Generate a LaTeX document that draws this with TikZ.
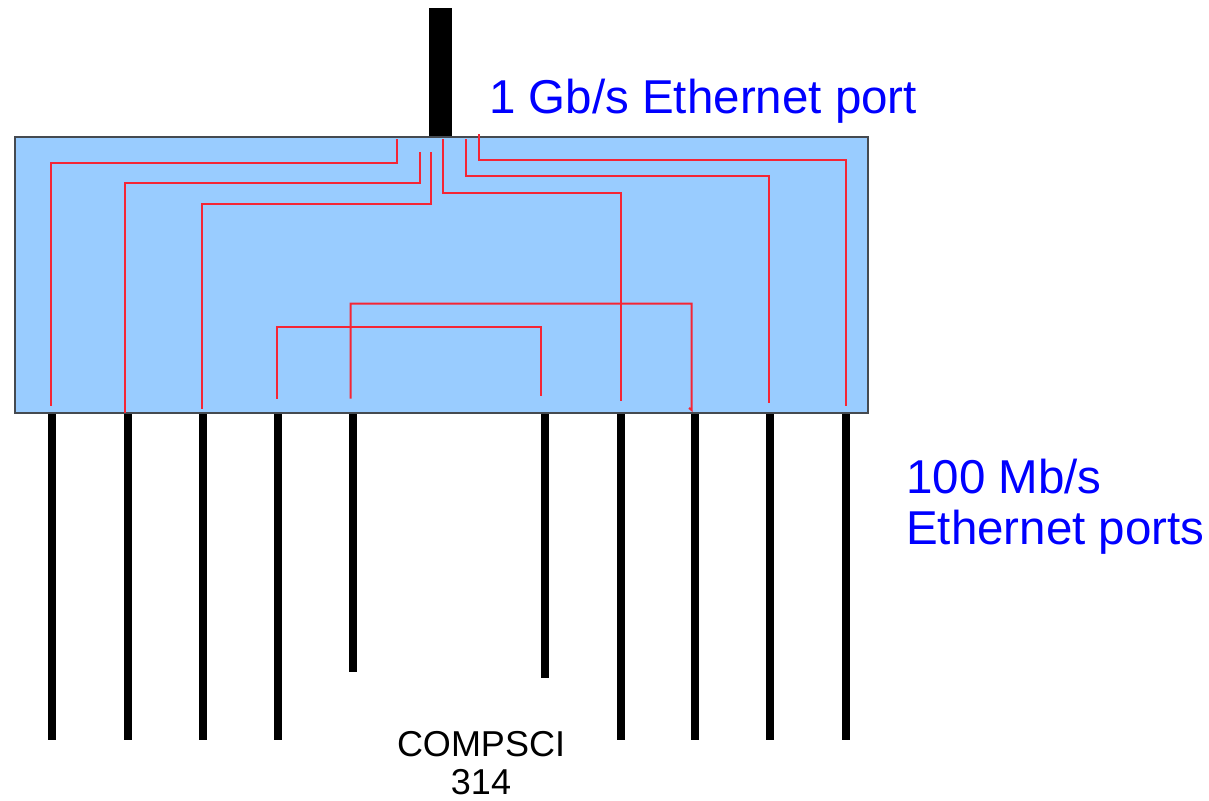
\documentclass[tikz,border=0pt]{standalone}
\usepackage{fontspec}
\setmainfont{Liberation Sans}
\definecolor{boxfill}{HTML}{99CCFF}
\definecolor{boxline}{HTML}{454A50}
\definecolor{trace}{HTML}{F52535}
\definecolor{labelblue}{HTML}{0000FF}
\begin{document}
\begin{tikzpicture}[x=1pt,y=-1pt,
  wire/.style={draw=trace,line width=2pt},
  portbar/.style={fill=black},
  biglabel/.style={inner sep=0pt,text=labelblue,font=\fontsize{47.5}{51}\selectfont},
  smalllabel/.style={inner sep=0pt,text=black,font=\fontsize{36}{37.8}\selectfont}]
\useasboundingbox (0,0) rectangle (1209,800);
% uplink bar
\fill[portbar] (429,8) rectangle (452,137);
% switch box
\draw[fill=boxfill,draw=boxline,line width=1.4pt] (15,137) rectangle (868,413);
% port bars
\foreach \x/\b in {52/740,128/740,203/740,278/740,353/672,545/678,621/740,695/740,770/740,846/740}{
  \fill[portbar] (\x-4,413.5) rectangle (\x+4,\b);
}
% traces from the uplink
\draw[wire] (397,139) -- (397,162.5) -- (51,162.5) -- (51,406);
\draw[wire] (420,152) -- (420,183) -- (125,183) -- (125,413);
\draw[wire] (430.5,152) -- (430.5,203.5) -- (201.5,203.5) -- (201.5,408.5);
\draw[wire] (442.5,139) -- (442.5,193) -- (620.5,193) -- (620.5,401);
\draw[wire] (466,139) -- (466,175.5) -- (768.5,175.5) -- (768.5,403);
\draw[wire] (478.5,134) -- (478.5,160) -- (845.5,160) -- (845.5,406);
% port-to-port traces
\draw[wire] (276.5,398.5) -- (276.5,326.5) -- (540.5,326.5) -- (540.5,396);
\draw[wire] (350.5,398.5) -- (350.5,303.5) -- (691.5,303.5) -- (691.5,410) -- (689,408);
% labels
\node[biglabel,anchor=base west] (uplinklabel) at (489,113.3) {1 Gb/s Ethernet port};
\node[biglabel,anchor=north west,align=left] (portslabel) at (906,458.5) {100 Mb/s\\Ethernet ports};
\node[smalllabel,anchor=north,align=center] (course) at (481,731.5) {COMPSCI\\314};
\end{tikzpicture}
\end{document}
